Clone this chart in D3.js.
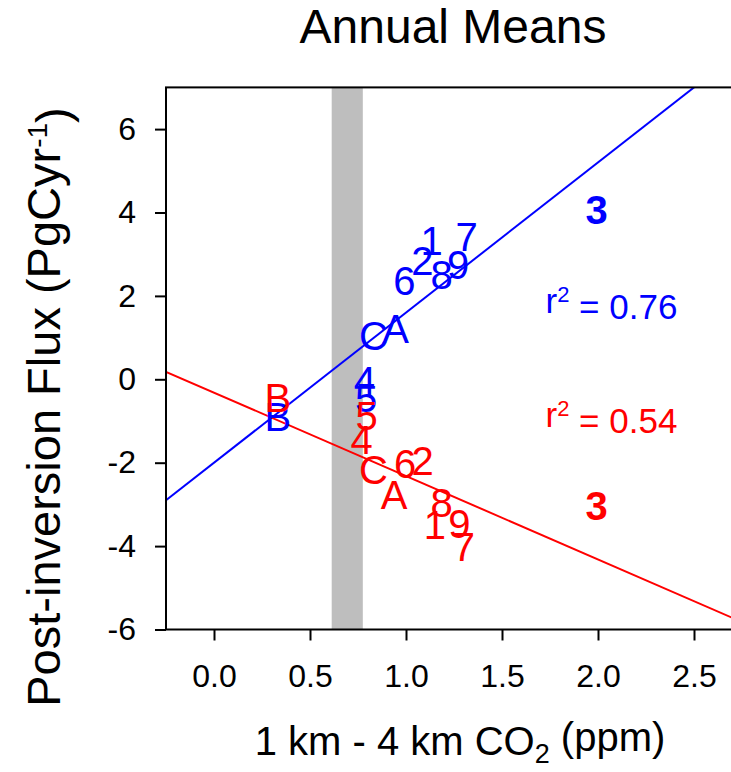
<!DOCTYPE html>
<html>
<head>
<meta charset="utf-8">
<script src="https://cdn.jsdelivr.net/npm/d3@7"></script>
<style>
  body { margin: 0; background: #fff; }
  svg { display: block; font-family: "Liberation Sans", Arial, sans-serif; }
</style>
</head>
<body>
<div id="chart"></div>
<script>
// chart size
var svgWidth = 731;
var svgHeight = 772;

// point labels (station / month ids) and their positions
var blueLabels = ["1", "7", "6", "2", "8", "9", "C", "A", "4", "5", "B", "3"];
var blueX = [1.134, 1.316, 0.991, 1.085, 1.186, 1.272, 0.830, 0.946, 0.786, 0.792, 0.333, 1.993];
var blueY = [3.32, 3.42, 2.36, 2.84, 2.50, 2.74, 1.04, 1.22, -0.02, -0.45, -0.90, 4.08];
var blueBold = ["3"];

var redLabels = ["B", "5", "4", "C", "A", "6", "2", "8", "1", "9", "7", "3"];
var redX = [0.333, 0.795, 0.769, 0.830, 0.938, 0.995, 1.087, 1.186, 1.151, 1.278, 1.302, 1.993];
var redY = [-0.43, -0.88, -1.44, -2.16, -2.77, -2.03, -1.94, -2.96, -3.49, -3.45, -4.00, -3.03];
var redBold = ["3"];

// regression fits
var blueFit = { intercept: -2.0, slope: 3.6, r2: "0.76" };
var redFit = { intercept: -0.32, slope: -2.0, r2: "0.54" };

// grey band on x
var band = [0.613, 0.775];

// ticks
var xTicks = [0.0, 0.5, 1.0, 1.5, 2.0, 2.5];
var yTicks = [-6, -4, -2, 0, 2, 4, 6];
var xDomain = [-0.25, 2.75];
var yDomain = [-6, 7];

var svg = d3.select("#chart")
  .append("svg")
  .attr("width", svgWidth)
  .attr("height", svgHeight);

var x = d3.scaleLinear().domain(xDomain).range([166, 742]);
var y = d3.scaleLinear().domain(yDomain).range([629.5, 87.4]);

// grey band
svg.append("rect")
  .attr("x", x(band[0]))
  .attr("y", y(yDomain[1]))
  .attr("width", x(band[1]) - x(band[0]))
  .attr("height", y(yDomain[0]) - y(yDomain[1]))
  .attr("fill", "#bebebe");

// regression lines, clipped to plot box
svg.append("clipPath").attr("id", "plotclip")
  .append("rect")
  .attr("x", x(xDomain[0]))
  .attr("y", y(yDomain[1]))
  .attr("width", x(xDomain[1]) - x(xDomain[0]))
  .attr("height", y(yDomain[0]) - y(yDomain[1]));

function fitLine(fit, color) {
  var pts = xDomain.map(d => [d, fit.intercept + fit.slope * d]);
  svg.append("path")
    .attr("clip-path", "url(#plotclip)")
    .attr("d", d3.line().x(d => x(d[0])).y(d => y(d[1]))(pts))
    .attr("stroke", color)
    .attr("stroke-width", 2)
    .attr("fill", "none");
}
fitLine(blueFit, "#0000ff");
fitLine(redFit, "#ff0000");

// point labels
function drawLabels(labels, xs, ys, bold, color) {
  var rows = labels.map((l, i) => ({ l: l, x: xs[i], y: ys[i] }));
  svg.append("g").selectAll("text")
    .data(rows)
    .join("text")
    .attr("x", d => x(d.x))
    .attr("y", d => y(d.y))
    .attr("dy", "0.36em")
    .attr("text-anchor", "middle")
    .attr("font-size", "40px")
    .attr("font-weight", d => bold.includes(d.l) ? "bold" : "normal")
    .attr("fill", color)
    .text(d => d.l);
}
drawLabels(blueLabels, blueX, blueY, blueBold, "#0000ff");
drawLabels(redLabels, redX, redY, redBold, "#ff0000");

// r squared annotations
function r2Label(fit, yv, color) {
  var t = svg.append("text")
    .attr("x", x(2.07))
    .attr("y", y(yv))
    .attr("text-anchor", "middle")
    .attr("font-size", "35px")
    .attr("fill", color);
  t.append("tspan").text("r");
  t.append("tspan").attr("dy", "-0.5em").attr("font-size", "22px").text("2");
  t.append("tspan").attr("dy", "0.5em").text(" = " + fit.r2);
}
r2Label(blueFit, 1.6, "#0000ff");
r2Label(redFit, -1.14, "#ff0000");

// axes
var bottomAxis = d3.axisBottom(x).tickValues(xTicks).tickFormat(d3.format(".1f"))
  .tickSize(11).tickPadding(24);
var leftAxis = d3.axisLeft(y).tickValues(yTicks).tickFormat(d => String(d))
  .tickSize(11).tickPadding(19);

var xAxis = svg.append("g")
  .attr("transform", `translate(0, ${y(yDomain[0])})`)
  .call(bottomAxis);
var yAxis = svg.append("g")
  .attr("transform", `translate(${x(xDomain[0])}, 0)`)
  .call(leftAxis);

[xAxis, yAxis].forEach(function(a) {
  a.select(".domain").remove();
  a.selectAll("line").attr("stroke", "#000").attr("stroke-width", 2);
  a.selectAll("text").attr("font-size", "32px").attr("fill", "#000")
    .attr("font-family", "Liberation Sans, Arial, sans-serif");
});

// plot box
svg.append("rect")
  .attr("x", x(xDomain[0]))
  .attr("y", y(yDomain[1]))
  .attr("width", x(xDomain[1]) - x(xDomain[0]))
  .attr("height", y(yDomain[0]) - y(yDomain[1]))
  .attr("fill", "none")
  .attr("stroke", "#000")
  .attr("stroke-width", 2);

// title
svg.append("text")
  .attr("x", 453)
  .attr("y", 43)
  .attr("text-anchor", "middle")
  .attr("font-size", "48px")
  .text("Annual Means");

// x axis title
var xt = svg.append("text")
  .attr("x", 460)
  .attr("y", 755)
  .attr("text-anchor", "middle")
  .attr("font-size", "40px");
xt.append("tspan").text("1 km - 4 km CO");
xt.append("tspan").attr("dy", "0.3em").attr("font-size", "27px").text("2");
xt.append("tspan").attr("dy", "-0.3em").text(" (ppm)");

// y axis title
var yt = svg.append("text")
  .attr("transform", "translate(60, 407) rotate(-90)")
  .attr("text-anchor", "middle")
  .attr("font-size", "47px");
yt.append("tspan").text("Post-inversion Flux (PgCyr");
yt.append("tspan").attr("dy", "-0.45em").attr("font-size", "28px").text("-1");
yt.append("tspan").attr("dy", "0.45em").text(")");
</script>
</body>
</html>
